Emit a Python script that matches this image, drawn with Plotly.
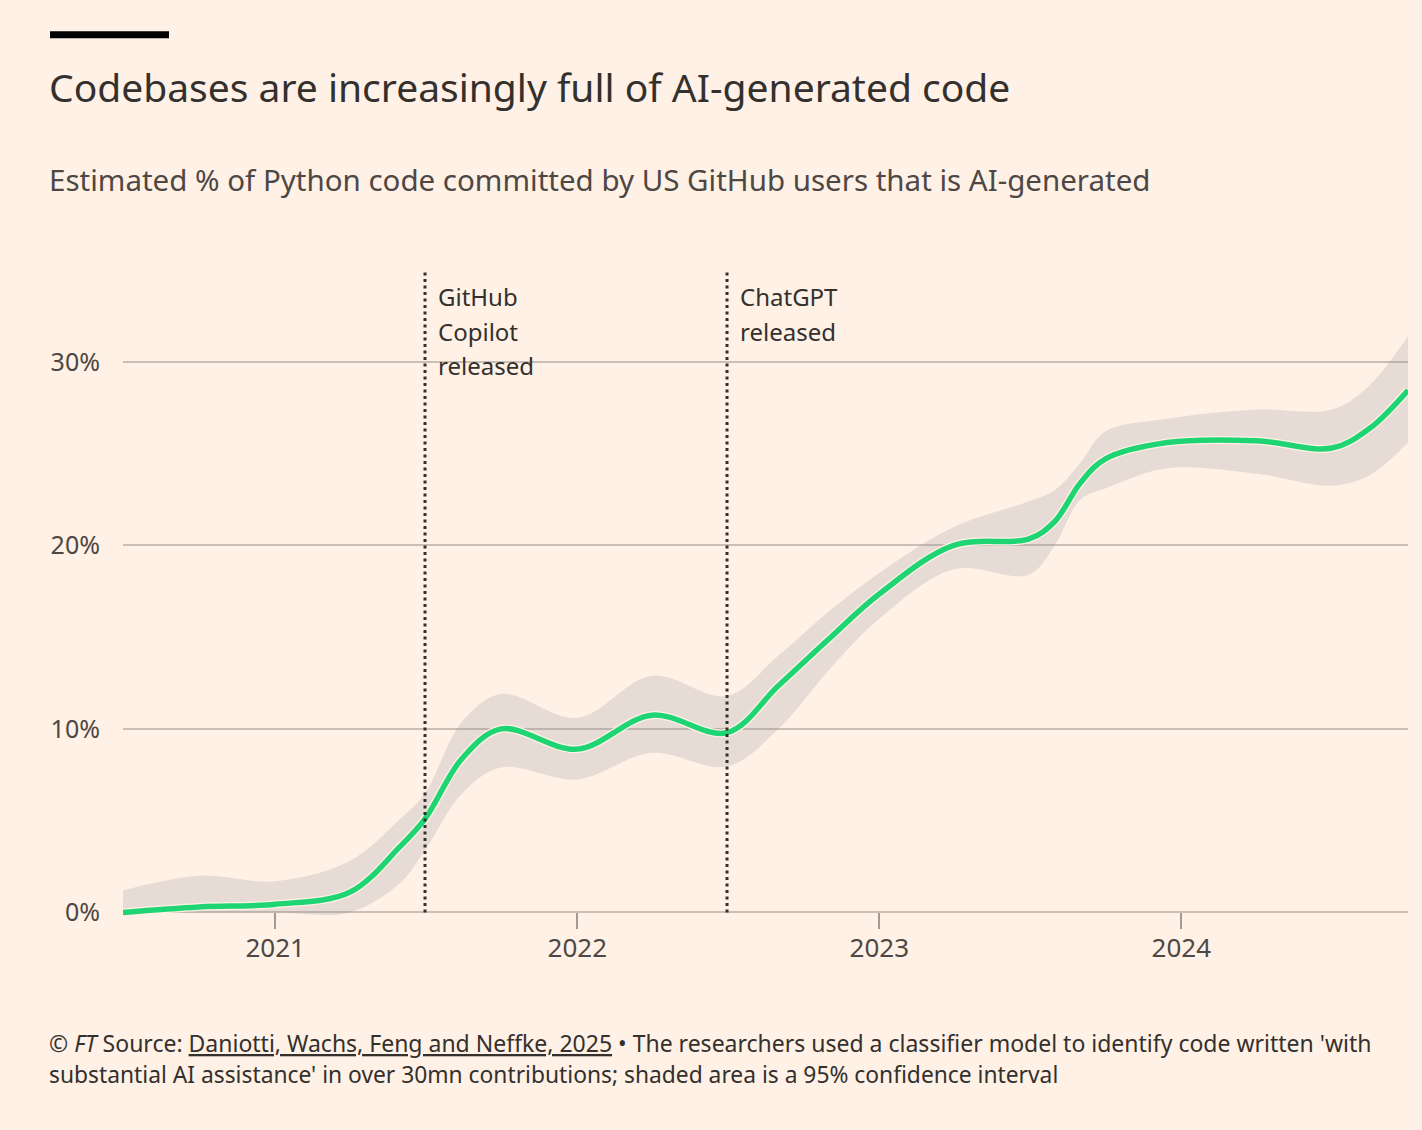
import plotly.graph_objects as go

# ---------------- data ----------------
dates = ["2020-07-01", "2020-10-01", "2021-01-01", "2021-04-01", "2021-06-01",
         "2021-07-01", "2021-08-15", "2021-10-01", "2022-01-01", "2022-04-01",
         "2022-07-01", "2022-09-01", "2022-11-01", "2023-01-01", "2023-04-01",
         "2023-07-01", "2023-08-01", "2023-09-01", "2023-10-01", "2023-12-15",
         "2024-04-01", "2024-07-01", "2024-08-15", "2024-10-01"]
share = [0.0, 0.3, 0.45, 1.1, 3.6, 5.1, 8.4, 10.0, 8.9, 10.75,
         9.8, 12.35, 14.9, 17.35, 20.0, 20.35, 21.3, 23.4, 24.7, 25.6,
         25.7, 25.3, 26.35, 28.45]
upper = [1.2, 2.0, 1.7, 2.8, 5.1, 6.5, 10.4, 11.9, 10.6, 12.9,
         11.8, 14.0, 16.4, 18.5, 21.0, 22.4, 23.0, 24.5, 26.2, 26.9,
         27.4, 27.4, 28.7, 31.4]
lower = [0.0, 0.0, 0.0, 0.0, 1.6, 3.4, 6.5, 7.9, 7.25, 8.7,
         7.95, 10.0, 13.2, 16.0, 18.7, 18.4, 20.0, 22.5, 23.1, 24.2,
         23.9, 23.25, 23.8, 25.6]

event_dates = ["2021-07-01", "2022-07-01"]
event_labels = [["GitHub", "Copilot", "released"], ["ChatGPT", "released"]]

y_ticks = [0, 10, 20, 30]
y_tick_text = ["0%", "10%", "20%", "30%"]
x_ticks = ["2021-01-01", "2022-01-01", "2023-01-01", "2024-01-01"]
x_tick_text = ["2021", "2022", "2023", "2024"]

title = "Codebases are increasingly full of AI-generated code"
subtitle = "Estimated % of Python code committed by US GitHub users that is AI-generated"
footer1 = ("© <i>FT</i> Source: <span style='text-decoration:underline'>Daniotti, Wachs, Feng and Neffke, 2025</span>"
           " • The researchers used a classifier model to identify code written 'with")
footer2 = "substantial AI assistance' in over 30mn contributions; shaded area is a 95% confidence interval"

# ---------------- style ----------------
BG = "#fff1e5"
TXT = "#33302e"
MUTED = "#4d4845"
GREEN = "#1fd473"
GRID = "#cbbfb5"
FONT = "Noto Sans"

W, H = 1422, 1130
L, R, T, B = 123, 14, 270, 211.5
YMIN, YMAX = -0.3, 35
pw, ph = W - L - R, H - T - B


def px(x):
    return (x - L) / pw


def py(y):
    return (H - B - y) / ph


fig = go.Figure()

fig.add_trace(go.Scatter(x=dates, y=lower, mode="lines", line=dict(width=0, shape="spline"),
                         hoverinfo="skip", showlegend=False))
fig.add_trace(go.Scatter(x=dates, y=upper, mode="lines", line=dict(width=0, shape="spline"),
                         fill="tonexty", fillcolor="rgba(135,140,150,0.2)",
                         hoverinfo="skip", showlegend=False))
fig.add_trace(go.Scatter(x=dates, y=share, mode="lines", line=dict(width=8, color=BG, shape="spline"),
                         hoverinfo="skip", showlegend=False))
fig.add_trace(go.Scatter(x=dates, y=share, mode="lines", line=dict(width=5.5, color=GREEN, shape="spline"),
                         showlegend=False))

for d, lines in zip(event_dates, event_labels):
    fig.add_shape(type="line", xref="x", yref="y", x0=d, x1=d, y0=0, y1=YMAX,
                  line=dict(color=TXT, width=3, dash="3px,3.5px"))
    for i, ln in enumerate(lines):
        fig.add_annotation(x=d, xref="x", y=py(297 + 34.5 * i), yref="paper", text=ln, showarrow=False,
                           xanchor="left", yanchor="middle", xshift=11, align="left",
                           font=dict(family=FONT, size=24, color=TXT))

fig.add_shape(type="rect", xref="paper", yref="paper", x0=px(50), x1=px(169), y0=py(38), y1=py(31),
              fillcolor="#000000", line=dict(width=0))

fig.add_annotation(x=px(47), y=py(86), xref="paper", yref="paper", text=title, showarrow=False,
                   xanchor="left", yanchor="middle", font=dict(family=FONT, size=39, color=TXT))
fig.add_annotation(x=px(47), y=py(179), xref="paper", yref="paper", text=subtitle, showarrow=False,
                   xanchor="left", yanchor="middle", font=dict(family=FONT, size=29.5, color=MUTED))
fig.add_annotation(x=px(47), y=py(1044), xref="paper", yref="paper", text=footer1, showarrow=False,
                   xanchor="left", yanchor="middle", font=dict(family=FONT, size=23, color=TXT))
fig.add_annotation(x=px(47), y=py(1075), xref="paper", yref="paper", text=footer2, showarrow=False,
                   xanchor="left", yanchor="middle", font=dict(family=FONT, size=22.8, color=TXT))

fig.update_layout(
    width=W, height=H,
    margin=dict(l=L, r=R, t=T, b=B, pad=0),
    paper_bgcolor=BG, plot_bgcolor=BG,
    font=dict(family=FONT, color=MUTED),
    xaxis=dict(type="date", range=["2020-07-01", "2024-10-01"], tickvals=x_ticks, ticktext=x_tick_text,
               showgrid=False, zeroline=False, showline=False,
               ticks="outside", ticklen=16, tickwidth=2, tickcolor="#a39a92",
               anchor="free", position=(0 - YMIN) / (YMAX - YMIN), ticklabelstandoff=-4,
               tickfont=dict(family=FONT, size=26, color=MUTED)),
    yaxis=dict(range=[YMIN, YMAX], tickvals=y_ticks, ticktext=y_tick_text,
               showgrid=True, gridcolor=GRID, gridwidth=1.5, zeroline=False, showline=False,
               ticks="", ticklabelstandoff=22,
               tickfont=dict(family=FONT, size=25, color=MUTED)),
    showlegend=False,
)

fig.write_html("out.html")
